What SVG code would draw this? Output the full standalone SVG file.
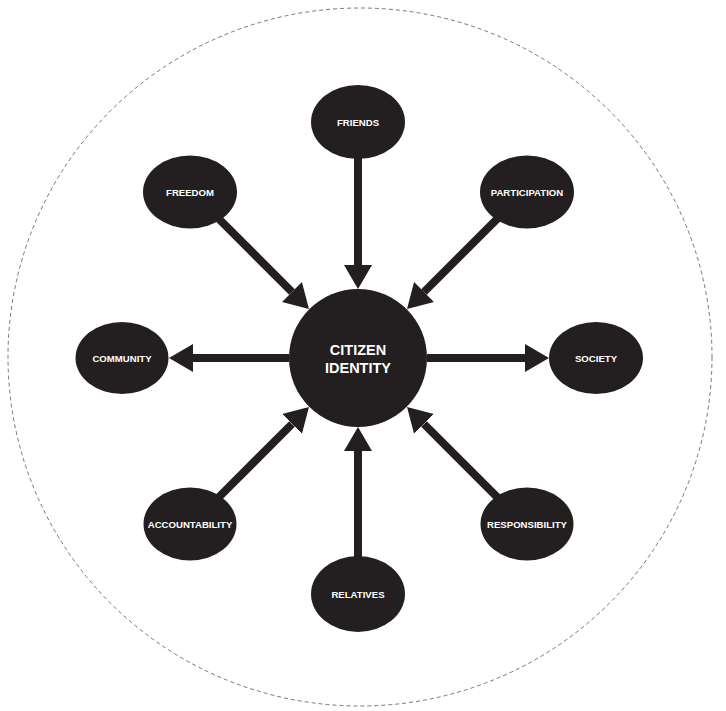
<svg xmlns="http://www.w3.org/2000/svg" width="726" height="711" viewBox="0 0 726 711">
  <style>
    .node { fill: #231f20; }
    .label { fill: #ffffff; font-family: "Liberation Sans", Arial, sans-serif; font-weight: bold; font-size: 9.6px; text-anchor: middle; }
    .hub { font-size: 14.5px; }
    .link { stroke: #231f20; stroke-width: 8; fill: none; marker-end: url(#head); }
    .frame { fill: none; stroke: #555555; stroke-width: 0.8; stroke-dasharray: 4 3; }
  </style>
  <defs>
    <marker id="head" markerUnits="userSpaceOnUse" markerWidth="26" markerHeight="30" viewBox="0 -15 26 30" refX="0" refY="0" orient="auto">
      <path d="M0,-14 L24,0 L0,14 Z" fill="#231f20"/>
    </marker>
  </defs>

  <rect width="726" height="711" fill="#ffffff"/>

  <!-- dashed outer boundary -->
  <ellipse class="frame" cx="360" cy="357" rx="352" ry="349"/>

  <!-- connectors: each line stops at the arrowhead base -->
  <g id="connectors">
    <line class="link" x1="358" y1="150" x2="358" y2="265"/>
    <line class="link" x1="208" y1="208" x2="292" y2="292"/>
    <line class="link" x1="508" y1="208" x2="424" y2="292"/>
    <line class="link" x1="289" y1="358" x2="193" y2="358"/>
    <line class="link" x1="427" y1="358" x2="525" y2="358"/>
    <line class="link" x1="208" y1="508" x2="292" y2="424"/>
    <line class="link" x1="508" y1="508" x2="424" y2="424"/>
    <line class="link" x1="358" y1="566" x2="358" y2="451"/>
  </g>

  <g id="citizen-identity">
    <circle class="node" cx="358" cy="358" r="69"/>
    <text class="label hub" x="358" y="355">CITIZEN</text>
    <text class="label hub" x="358" y="373">IDENTITY</text>
  </g>
  <g id="friends">
    <ellipse class="node" cx="358" cy="122" rx="47" ry="37"/>
    <text class="label" x="358" y="125.5">FRIENDS</text>
  </g>
  <g id="freedom">
    <ellipse class="node" cx="190" cy="192" rx="47" ry="36.5"/>
    <text class="label" x="190" y="195.5">FREEDOM</text>
  </g>
  <g id="participation">
    <ellipse class="node" cx="527" cy="192" rx="47" ry="36.5"/>
    <text class="label" x="527" y="195.5">PARTICIPATION</text>
  </g>
  <g id="community">
    <ellipse class="node" cx="122" cy="358" rx="46.5" ry="36"/>
    <text class="label" x="122" y="361.5">COMMUNITY</text>
  </g>
  <g id="society">
    <ellipse class="node" cx="596" cy="358" rx="47" ry="36"/>
    <text class="label" x="596" y="361.5">SOCIETY</text>
  </g>
  <g id="accountability">
    <ellipse class="node" cx="190" cy="524" rx="46.5" ry="36.5"/>
    <text class="label" x="190" y="527.5">ACCOUNTABILITY</text>
  </g>
  <g id="responsibility">
    <ellipse class="node" cx="527" cy="524" rx="46.5" ry="36.5"/>
    <text class="label" x="527" y="527.5">RESPONSIBILITY</text>
  </g>
  <g id="relatives">
    <ellipse class="node" cx="358" cy="594" rx="47" ry="38"/>
    <text class="label" x="358" y="597.5">RELATIVES</text>
  </g>
</svg>
